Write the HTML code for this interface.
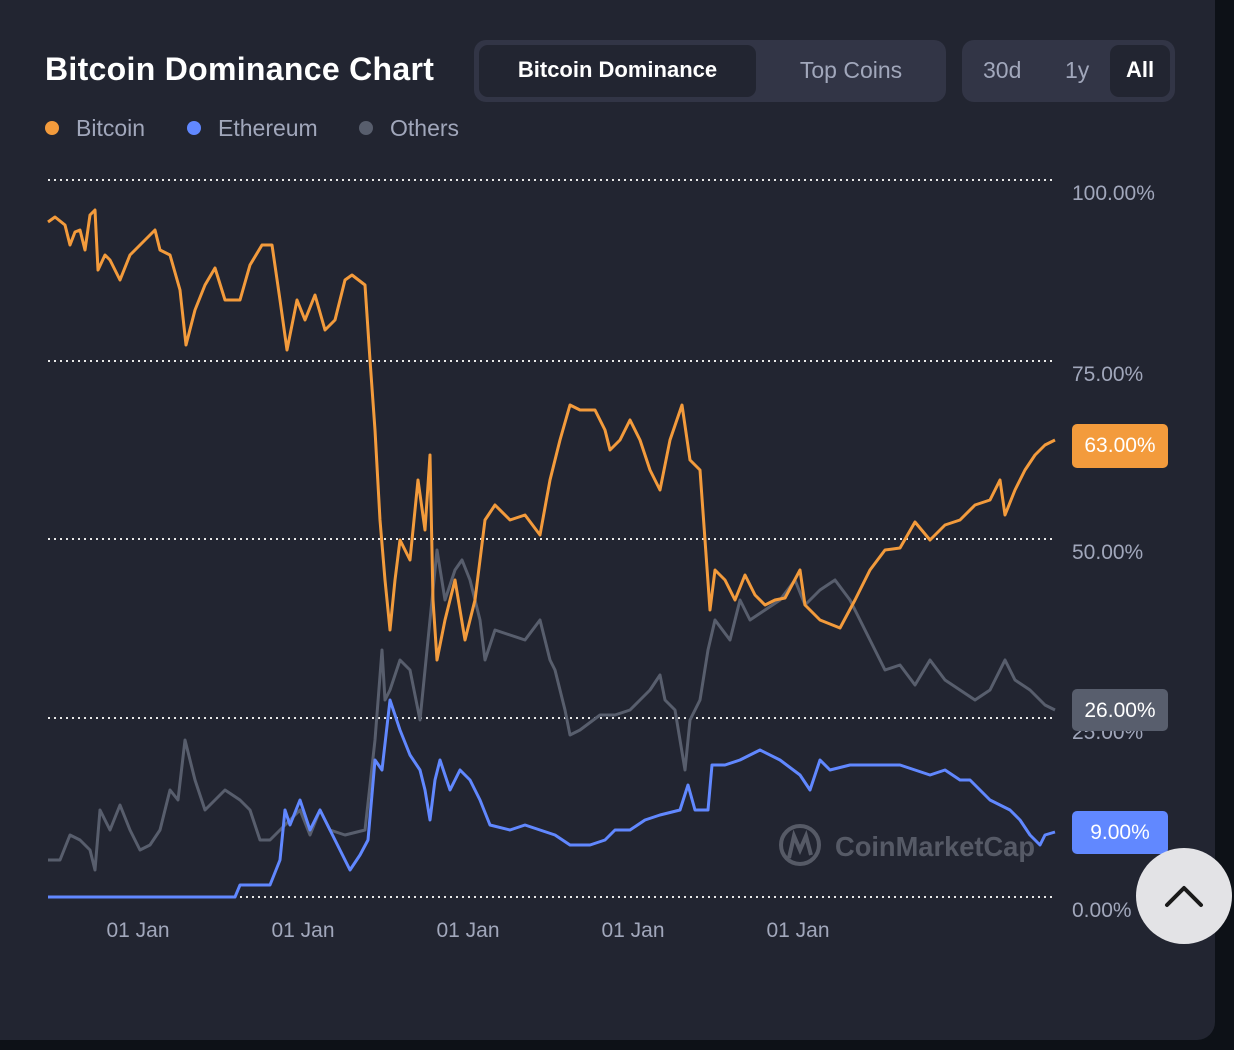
<!DOCTYPE html>
<html><head><meta charset="utf-8"><style>
html,body{margin:0;padding:0;background:#0d1117;width:1234px;height:1050px;overflow:hidden;font-family:"Liberation Sans",sans-serif}
.card{position:absolute;left:0;top:0;width:1215px;height:1040px;background:#222531;border-radius:0 0 18px 0}
.t{position:absolute;white-space:nowrap}
</style></head><body>
<div class="card"></div>
<div class="t" style="left:45px;top:51px;font-size:32px;font-weight:bold;color:#fff;letter-spacing:0.3px">Bitcoin Dominance Chart</div>
<div style="position:absolute;left:474px;top:40px;width:472px;height:62px;background:#323546;border-radius:12px"></div>
<div style="position:absolute;left:479px;top:45px;width:277px;height:52px;background:#222531;border-radius:9px"></div>
<div class="t" style="left:479px;width:277px;text-align:center;top:57px;font-size:22px;font-weight:bold;color:#fff">Bitcoin Dominance</div>
<div class="t" style="left:756px;width:190px;text-align:center;top:57px;font-size:23px;color:#a1a7bb">Top Coins</div>
<div style="position:absolute;left:962px;top:40px;width:213px;height:62px;background:#323546;border-radius:12px"></div>
<div style="position:absolute;left:1110px;top:45px;width:60px;height:52px;background:#222531;border-radius:9px"></div>
<div class="t" style="left:983px;top:57px;font-size:23px;color:#a1a7bb">30d</div>
<div class="t" style="left:1065px;top:57px;font-size:23px;color:#a1a7bb">1y</div>
<div class="t" style="left:1126px;top:57px;font-size:22px;font-weight:bold;color:#fff">All</div>
<div style="position:absolute;left:45px;top:121px;width:14px;height:14px;border-radius:50%;background:#f39b3c"></div>
<div class="t" style="left:76px;top:115px;font-size:23px;color:#a1a7bb">Bitcoin</div>
<div style="position:absolute;left:187px;top:121px;width:14px;height:14px;border-radius:50%;background:#6188ff"></div>
<div class="t" style="left:218px;top:115px;font-size:23px;color:#a1a7bb">Ethereum</div>
<div style="position:absolute;left:359px;top:121px;width:14px;height:14px;border-radius:50%;background:#585e6d"></div>
<div class="t" style="left:390px;top:115px;font-size:23px;color:#a1a7bb">Others</div>

<svg width="1234" height="1050" style="position:absolute;left:0;top:0">
<g stroke="#e8e8e8" stroke-width="2" stroke-dasharray="2 4">
<line x1="48" y1="180" x2="1052" y2="180"/><line x1="48" y1="361" x2="1052" y2="361"/><line x1="48" y1="539" x2="1052" y2="539"/><line x1="48" y1="718" x2="1052" y2="718"/><line x1="48" y1="897" x2="1052" y2="897"/>
</g>
<g font-family="Liberation Sans" font-size="21" fill="#a1a7bb">
<text x="1072" y="200">100.00%</text><text x="1072" y="381">75.00%</text><text x="1072" y="559">50.00%</text><text x="1072" y="739">25.00%</text><text x="1072" y="917">0.00%</text>
<text x="138" y="937" text-anchor="middle">01 Jan</text><text x="303" y="937" text-anchor="middle">01 Jan</text><text x="468" y="937" text-anchor="middle">01 Jan</text><text x="633" y="937" text-anchor="middle">01 Jan</text><text x="798" y="937" text-anchor="middle">01 Jan</text>
</g>
<g opacity="0.5" fill="none" stroke="#8a8f9c" stroke-width="4">
<circle cx="800" cy="845" r="19"/><path d="M789 858 L794 836 L800 850 L806 836 L811 855"/>
</g>
<text x="835" y="856" font-family="Liberation Sans" font-size="28" font-weight="bold" fill="#8a8f9c" opacity="0.5" textLength="200" lengthAdjust="spacingAndGlyphs">CoinMarketCap</text>
<polyline fill="none" stroke="#585e6d" stroke-width="3" stroke-linejoin="round" points="48,860 60,860 70,835 80,840 90,850 95,870 100,810 110,830 120,805 130,830 140,850 150,845 160,830 170,790 178,800 185,740 195,780 205,810 215,800 225,790 240,800 250,810 260,840 270,840 280,830 290,820 300,810 310,835 320,810 330,830 345,835 365,830 375,740 382,650 385,700 390,690 400,660 410,670 420,720 430,620 437,550 445,600 455,570 462,560 470,580 480,620 485,660 495,630 510,635 525,640 540,620 550,660 555,670 565,710 570,735 580,730 600,715 615,715 630,710 640,700 650,690 660,675 665,700 675,710 685,770 690,720 700,700 708,650 715,620 730,640 740,600 750,620 765,610 780,600 795,580 805,605 820,590 835,580 850,600 860,620 870,640 885,670 900,665 915,685 930,660 945,680 960,690 975,700 990,690 1005,660 1015,680 1030,690 1045,705 1055,710"/>
<polyline fill="none" stroke="#6188ff" stroke-width="3" stroke-linejoin="round" points="48,897 235,897 240,885 270,885 280,860 285,810 290,825 300,800 310,830 320,810 330,830 340,850 350,870 360,855 368,840 375,760 382,770 390,700 400,730 410,755 420,770 425,790 430,820 435,780 440,760 450,790 460,770 470,780 480,800 490,825 510,830 525,825 540,830 555,835 570,845 590,845 605,840 615,830 630,830 645,820 660,815 680,810 688,785 695,810 708,810 712,765 725,765 740,760 760,750 780,760 800,775 810,790 820,760 830,770 850,765 870,765 900,765 915,770 930,775 945,770 960,780 970,780 980,790 990,800 1000,805 1010,810 1020,820 1030,835 1040,845 1045,835 1055,832"/>
<polyline fill="none" stroke="#f39b3c" stroke-width="3" stroke-linejoin="round" points="48,222 55,217 65,225 70,245 75,232 80,230 85,250 90,215 95,210 98,270 105,255 110,260 120,280 130,255 145,240 155,230 160,250 170,255 180,290 186,345 195,310 205,285 215,268 225,300 240,300 250,265 262,245 272,245 280,300 287,350 297,300 305,320 315,295 325,330 335,320 345,280 352,275 365,285 370,360 375,430 380,520 385,580 390,630 395,580 400,540 410,560 418,480 425,530 430,455 433,600 437,660 445,620 455,580 465,640 475,600 485,520 495,505 510,520 525,515 540,535 550,480 560,440 570,405 580,410 595,410 605,430 610,450 620,440 630,420 640,440 650,470 660,490 670,440 682,405 690,460 700,470 710,610 715,570 725,580 735,600 745,575 755,595 765,605 775,600 785,598 800,570 805,605 820,620 840,628 855,600 870,570 885,550 900,548 915,522 930,540 945,525 960,520 975,505 990,500 1000,480 1005,515 1015,490 1025,470 1035,455 1045,445 1055,440"/>
<rect x="1072" y="424" width="96" height="44" rx="5" fill="#f39b3c"/>
<text x="1120" y="452" text-anchor="middle" font-family="Liberation Sans" font-size="21" fill="#fff">63.00%</text>
<rect x="1072" y="689" width="96" height="42" rx="5" fill="#585e6d"/>
<text x="1120" y="717" text-anchor="middle" font-family="Liberation Sans" font-size="21" fill="#fff">26.00%</text>
<rect x="1072" y="811" width="96" height="43" rx="5" fill="#6188ff"/>
<text x="1120" y="839" text-anchor="middle" font-family="Liberation Sans" font-size="21" fill="#fff">9.00%</text>
<circle cx="1184" cy="896" r="48" fill="#e3e3e6"/>
<path d="M1167 905 L1184 888 L1201 905" fill="none" stroke="#1a1a1a" stroke-width="4" stroke-linecap="round" stroke-linejoin="round"/>
</svg>
</body></html>
